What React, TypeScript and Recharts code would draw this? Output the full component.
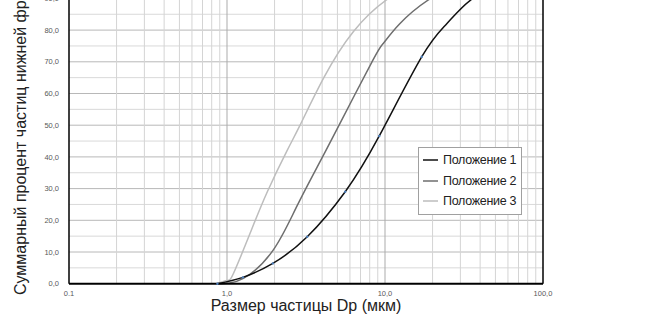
import React from 'react';
import { LineChart, Line, XAxis, YAxis, ReferenceLine, Legend, Label } from 'recharts';

// particle size, um
const sizes1 = [0.87, 1.26, 1.95, 3.22, 5.6, 9.2, 17.1, 24.6, 36, 60];
const values1 = [0, 2.0, 6.4, 14.8, 29.0, 46.6, 71.6, 82, 90, 95];

const sizes2 = [0.87, 1.27, 1.96, 2.76, 3.88, 5.19, 8.4, 9.75, 12.4, 18.8, 30];
const values2 = [0, 1.7, 10.6, 24.3, 38.5, 50.6, 70.6, 75.8, 82, 89.5, 95];

const sizes3 = [0.86, 1.0, 1.1, 1.4, 1.8, 2.4, 2.9, 4.1, 6.3, 10.2, 16, 25];
const values3 = [0, 1.0, 3.3, 15.9, 29, 42, 50, 65, 79.5, 89.5, 94.5, 97];

// measured points shown with markers on series 1
const markedCount1 = 7;

const xTicks = [0.1, 1, 10, 100];
const yTicks = [0, 10, 20, 30, 40, 50, 60, 70, 80, 90, 100];
const xMinor = [0.2, 0.3, 0.4, 0.5, 0.6, 0.7, 0.8, 0.9, 2, 3, 4, 5, 6, 7, 8, 9, 20, 30, 40, 50, 60, 70, 80, 90];
const yMinor = [5, 15, 25, 35, 45, 55, 65, 75, 85, 95];

const seriesNames = ['Положение 1', 'Положение 2', 'Положение 3'];

const toRows = (xs: number[], ys: number[]) => xs.map((d, i) => ({ d, v: ys[i] }));
const series1 = toRows(sizes1, values1);
const series2 = toRows(sizes2, values2);
const series3 = toRows(sizes3, values3);

const FONT = '"Liberation Sans", Arial, sans-serif';
const SHIFT = 50; // chart top is cropped in the reference

const fmtY = (v: number) => v.toFixed(1).replace('.', ',');
const fmtX = (v: number) => (v < 1 ? '0.1' : v.toFixed(1).replace('.', ','));

function LegendBox({ payload }: any) {
  return (
    <div
      style={{
        border: '1.5px solid #a0a0a0',
        background: '#fff',
        padding: '2px 5px 2px 4px',
        fontFamily: FONT,
        fontSize: 12.5,
        letterSpacing: -0.3,
        color: '#222',
        whiteSpace: 'nowrap',
        boxSizing: 'border-box',
      }}
    >
      {(payload || []).map((p: any) => (
        <div key={p.value} style={{ display: 'flex', alignItems: 'center', height: 20.5 }}>
          <svg width={16} height={10} style={{ marginRight: 4 }}>
            <line x1={0} y1={5} x2={15} y2={5} stroke={p.color} strokeWidth={1.5} />
          </svg>
          <span>{p.value}</span>
        </div>
      ))}
    </div>
  );
}

export default function App() {
  return (
    <div style={{ position: 'absolute', left: 0, top: 0, width: 664, height: 314, overflow: 'hidden', background: '#fff' }}>
      <div style={{ position: 'relative', top: -SHIFT }}>
        <LineChart width={664} height={314 + SHIFT} margin={{ top: SHIFT - 33.3, right: 121, bottom: 0, left: 0 }}>
          <XAxis
            type="number"
            dataKey="d"
            scale="log"
            domain={[0.1, 100]}
            ticks={xTicks}
            tickFormatter={fmtX}
            allowDataOverflow
            height={30.3}
            tickLine={false}
            axisLine={{ stroke: '#000', strokeWidth: 2 }}
            tick={{ fontSize: 7.5, fill: '#595959', fontFamily: FONT }}
            tickMargin={1}
          >
            <Label
              content={({ viewBox }: any) => (
                <text
                  x={viewBox.x + viewBox.width / 2}
                  y={viewBox.y + 27}
                  textAnchor="middle"
                  fontSize={16}
                  fontFamily={FONT}
                  fill="#222"
                >
                  Размер частицы Dp (мкм)
                </text>
              )}
            />
          </XAxis>
          <YAxis
            type="number"
            domain={[0, 100]}
            ticks={yTicks}
            tickFormatter={fmtY}
            width={69}
            tickLine={false}
            axisLine={{ stroke: '#000', strokeWidth: 1.5 }}
            tick={{ fontSize: 7.5, fill: '#595959', fontFamily: FONT }}
            tickMargin={4}
          >
            <Label
              content={() => (
                <text
                  x={26}
                  y={295 + SHIFT}
                  transform={`rotate(-90 26 ${295 + SHIFT})`}
                  textAnchor="start"
                  fontSize={16}
                  fontFamily={FONT}
                  fill="#222"
                >
                  Суммарный процент частиц нижней фракции (%)
                </text>
              )}
            />
          </YAxis>

          {yMinor.map((v) => (
            <ReferenceLine key={'ym' + v} y={v} stroke="#d9d9d9" strokeWidth={1} />
          ))}
          {yTicks.slice(1).map((v) => (
            <ReferenceLine key={'yM' + v} y={v} stroke="#b8b8b8" strokeWidth={1} />
          ))}
          {xMinor.map((v) => (
            <ReferenceLine key={'xm' + v} x={v} stroke="#d4d4d4" strokeWidth={1} />
          ))}
          <ReferenceLine x={1} stroke="#ababab" strokeWidth={1} />
          <ReferenceLine x={10} stroke="#ababab" strokeWidth={1} />
          <ReferenceLine x={100} stroke="#000" strokeWidth={1.5} />

          <Line
            data={series3}
            dataKey="v"
            name={seriesNames[2]}
            type="natural"
            stroke="#bdbdbd"
            strokeWidth={1.5}
            dot={false}
            isAnimationActive={false}
          />
          <Line
            data={series2}
            dataKey="v"
            name={seriesNames[1]}
            type="natural"
            stroke="#6e6e6e"
            strokeWidth={1.5}
            dot={false}
            isAnimationActive={false}
          />
          <Line
            data={series1}
            dataKey="v"
            name={seriesNames[0]}
            type="natural"
            stroke="#111"
            strokeWidth={1.5}
            dot={(p: any) =>
              p.index < markedCount1 ? (
                <circle key={'dot' + p.index} cx={p.cx} cy={p.cy} r={1.2} fill="#4f81bd" />
              ) : (
                <g key={'dot' + p.index} />
              )
            }
            isAnimationActive={false}
          />

          <Legend
            layout="vertical"
            align="center"
            verticalAlign="middle"
            content={<LegendBox />}
            wrapperStyle={{ left: 418, top: 147 + SHIFT, width: 'auto', height: 'auto' }}
          />
        </LineChart>
      </div>
    </div>
  );
}
